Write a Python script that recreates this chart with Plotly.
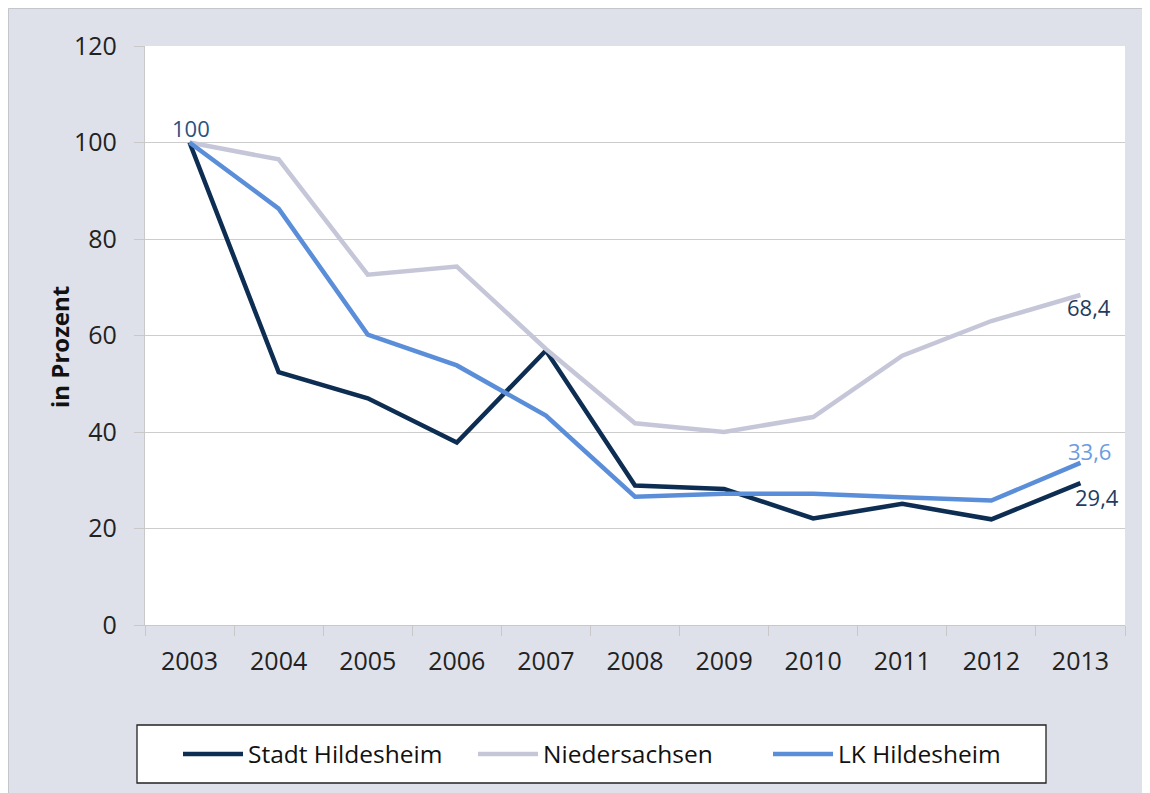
import plotly.graph_objects as go

years = ["2003", "2004", "2005", "2006", "2007", "2008", "2009", "2010", "2011", "2012", "2013"]
stadt = [100, 52.4, 47.0, 37.8, 56.9, 28.9, 28.2, 22.1, 25.1, 21.9, 29.4]
nieder = [100, 96.5, 72.6, 74.3, 57.2, 41.8, 40.0, 43.1, 55.8, 63.0, 68.4]
lk = [100, 86.3, 60.2, 53.8, 43.4, 26.6, 27.2, 27.2, 26.5, 25.8, 33.6]
series_names = ["Stadt Hildesheim", "Niedersachsen", "LK Hildesheim"]
y_ticks = [0, 20, 40, 60, 80, 100, 120]

c_stadt = "#0d2e52"
c_nieder = "#c5c7d9"
c_lk = "#5b8ed8"
bg = "#dee1e9"
font = "Open Sans"

fig = go.Figure()
for name, vals, col in [(series_names[0], stadt, c_stadt),
                        (series_names[1], nieder, c_nieder),
                        (series_names[2], lk, c_lk)]:
    fig.add_trace(go.Scatter(x=years, y=vals, name=name, mode="lines",
                             line=dict(color=col, width=4.5)))

# page body has an 8px margin, so figure coords = reference coords - 8
W, H = 1142, 785
L, R, T, B = 137, 25, 38, 168
pw, ph = W - L - R, H - T - B

def px(x):
    return (x - L) / pw

def py(y):
    return (H - B - y) / ph

shapes = [
    dict(type="rect", xref="paper", yref="paper", x0=px(0.5), x1=px(W - 0.5), y0=py(H + 2), y1=py(0.5),
         fillcolor="rgba(0,0,0,0)", line=dict(width=1, color="#c4c6cc"), layer="below"),
    dict(type="rect", xref="paper", yref="paper", x0=px(129), x1=px(1038), y0=py(775), y1=py(717),
         fillcolor="white", line=dict(width=1.3, color="#222222"), layer="below"),
]

lab_font = 22
annotations = [
    dict(x=0, y=stadt[0], text=f"{stadt[0]:g}", showarrow=False, xshift=1, yshift=15,
         font=dict(family=font, size=lab_font, color="#2b5180")),
    dict(x=10, y=nieder[-1], text=f"{nieder[-1]:.1f}".replace(".", ","), showarrow=False,
         xshift=9, yshift=-12, font=dict(family=font, size=lab_font, color="#1f3c60")),
    dict(x=10, y=lk[-1], text=f"{lk[-1]:.1f}".replace(".", ","), showarrow=False,
         xshift=9, yshift=12, font=dict(family=font, size=lab_font, color="#6b9ce0")),
    dict(x=10, y=stadt[-1], text=f"{stadt[-1]:.1f}".replace(".", ","), showarrow=False,
         xshift=17, yshift=-14, font=dict(family=font, size=lab_font, color="#1f3c60")),
    dict(x=px(52), y=py(339), xref="paper", yref="paper", text="<b>in Prozent</b>", textangle=-90,
         xanchor="center", yanchor="middle",
         showarrow=False, font=dict(family=font, size=24, color="#111111")),
]

fig.update_layout(
    width=W, height=H,
    margin=dict(l=L, r=R, t=T, b=B, pad=0),
    paper_bgcolor=bg, plot_bgcolor="white",
    font=dict(family=font, size=25, color="#222222"),
    showlegend=True,
    legend=dict(orientation="h", x=px(170), y=py(746), xanchor="left", yanchor="middle",
                bgcolor="rgba(0,0,0,0)", borderwidth=0, itemwidth=60,
                entrywidth=220, entrywidthmode="pixels",
                font=dict(family=font, size=24.5, color="#111111")),
    shapes=shapes,
    annotations=annotations,
)
fig.update_xaxes(type="category", range=[-0.5, 10.5], showgrid=False, tickson="boundaries",
                 ticks="outside", ticklen=10, tickcolor="#c8c8c8", tickwidth=1.3,
                 showline=True, linecolor="#c8c8c8", linewidth=1.3,
                 tickfont=dict(family=font, size=25, color="#222222"), ticklabelstandoff=14)
fig.update_yaxes(range=[0, 120], tickvals=y_ticks, showgrid=True, gridcolor="#cccccc", gridwidth=1.3,
                 ticks="outside", ticklen=10, tickcolor="#c8c8c8", tickwidth=1.3,
                 showline=True, linecolor="#c8c8c8", linewidth=1.3, zeroline=False,
                 tickfont=dict(family=font, size=25, color="#222222"), ticklabelstandoff=12)

fig.write_html("out.html")
